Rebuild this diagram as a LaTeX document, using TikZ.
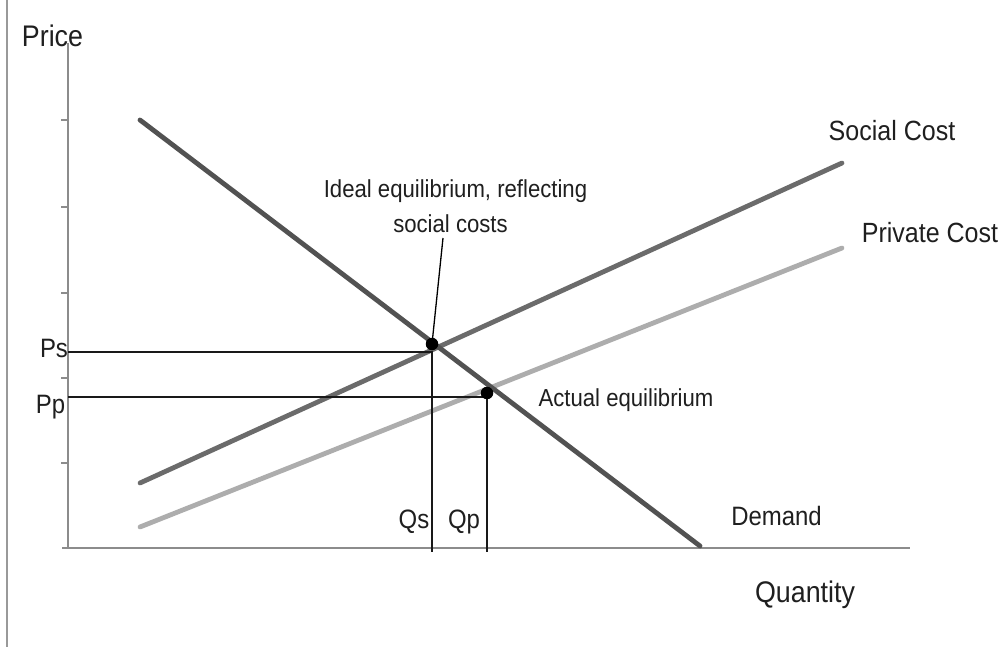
\documentclass[tikz,border=0pt]{standalone}
\usepackage{fontspec}
\setmainfont[FakeStretch=0.9]{Liberation Sans}
\begin{document}
\begin{tikzpicture}[x=1pt,y=-1pt,
  axis/.style={draw=black!45,line width=1.8pt},
  curve/.style={line width=4.8pt,line cap=round},
  guide/.style={draw=black!90,line width=1.8pt},
  eqdot/.style={circle,fill=black,inner sep=0pt,minimum size=12.5pt},
  lbl/.style={inner sep=0pt,anchor=base,text=black!88},
  big/.style={lbl,font=\fontsize{29.8}{32}\selectfont},
  mid/.style={lbl,font=\fontsize{27.8}{30}\selectfont},
  sml/.style={lbl,font=\fontsize{26.6}{29}\selectfont},
  note/.style={lbl,font=\fontsize{24.6}{28}\selectfont}]
\useasboundingbox (0,0) rectangle (1007,647);
\fill[white] (0,0) rectangle (1007,647);
% frame line at left
\draw[draw=black!40,line width=1.6pt] (7,0) -- (7,647);
% axes
\coordinate (ytop) at (68,43);
\coordinate (orig) at (68,548);
\coordinate (xend) at (910,548);
\draw[axis] (ytop) -- (orig);
\draw[axis] (62,548) -- (xend);
\foreach \t in {120,207,293,378,463}
  \draw[draw=black!45,line width=1.2pt] (61,\t) -- (68,\t);
% curves
\coordinate (d1) at (140,120);
\coordinate (d2) at (700,546);
\coordinate (s1) at (140,483);
\coordinate (s2) at (842,163);
\coordinate (p1) at (140,527);
\coordinate (p2) at (842,248);
\draw[curve,draw=black!58] (s1) -- (s2);
\draw[curve,draw=black!32] (p1) -- (p2);
\draw[curve,draw=black!68] (d1) -- (d2);
% guide lines
\coordinate (ps) at (68,352);
\coordinate (psc) at (432,352);
\coordinate (qs) at (432,552);
\coordinate (pp) at (68,397);
\coordinate (ppc) at (487,397);
\coordinate (qp) at (487,552);
\draw[guide] (ps) -- (psc) -- (qs);
\draw[guide] (pp) -- (ppc) -- (qp);
% equilibrium points
\node[eqdot] (ideal) at (432,344) {};
\node[eqdot] (actual) at (487,393) {};
% labels
\node[big] (price) at (52.5,47) {Price};
\node[big] (quantity) at (805,602) {Quantity};
\node[mid] (social) at (892,141) {Social Cost};
\node[mid] (private) at (930,243) {Private Cost};
\node[sml] (demand) at (776.5,525) {Demand};
\node[sml] (pslbl) at (54,357) {Ps};
\node[sml] (pplbl) at (50.5,413) {Pp};
\node[sml] (qslbl) at (414,528) {Qs};
\node[sml] (qplbl) at (464,528) {Qp};
\node[note] (ideallbl1) at (455.5,198) {Ideal equilibrium, reflecting};
\node[note] (ideallbl2) at (450.5,233) {social costs};
\node[note] (actuallbl) at (626,406) {Actual equilibrium};
\coordinate (leadend) at (443,238);
\draw[draw=black,line width=1.3pt] (ideal.center) -- (leadend);
\end{tikzpicture}
\end{document}
